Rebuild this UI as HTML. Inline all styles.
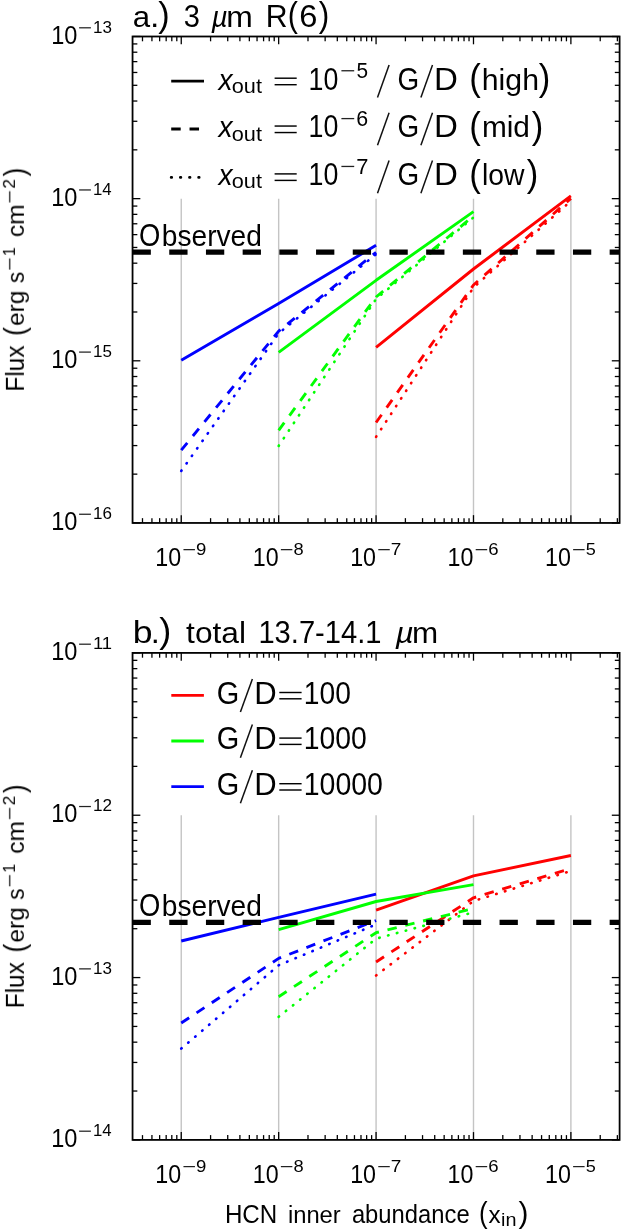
<!DOCTYPE html>
<html><head><meta charset="utf-8"><style>
html,body{margin:0;padding:0;background:#fff;}
svg{display:block;font-family:"Liberation Sans",sans-serif;}
</style></head><body>
<svg width="622" height="1232" viewBox="0 0 622 1232">
<rect width="622" height="1232" fill="#fff"/>
<g opacity="0.999">
<line x1="181.25" y1="522.95" x2="181.25" y2="198.65" stroke="#c4c4c4" stroke-width="1.4"/>
<line x1="278.67" y1="522.95" x2="278.67" y2="198.65" stroke="#c4c4c4" stroke-width="1.4"/>
<line x1="376.07" y1="522.95" x2="376.07" y2="198.65" stroke="#c4c4c4" stroke-width="1.4"/>
<line x1="473.49" y1="522.95" x2="473.49" y2="198.65" stroke="#c4c4c4" stroke-width="1.4"/>
<line x1="570.89" y1="522.95" x2="570.89" y2="198.65" stroke="#c4c4c4" stroke-width="1.4"/>
<path d="M376.07,347.40 L473.49,269.00 L570.89,195.80" fill="none" stroke="#ff0000" stroke-width="2.9" stroke-linejoin="round"/>
<path d="M376.07,422.50 L473.49,285.00 L570.89,198.30" fill="none" stroke="#ff0000" stroke-width="2.9" stroke-linejoin="round" stroke-dasharray="9.5 8.83"/>
<path d="M376.07,436.90 L473.49,287.50 L570.89,201.00" fill="none" stroke="#ff0000" stroke-width="2.65" stroke-linejoin="round" stroke-dasharray="0.5 8.65" stroke-linecap="round"/>
<path d="M278.67,352.30 L376.07,280.30 L473.49,211.60" fill="none" stroke="#00ff00" stroke-width="2.9" stroke-linejoin="round"/>
<path d="M278.67,430.40 L376.07,297.00 L473.49,215.90" fill="none" stroke="#00ff00" stroke-width="2.9" stroke-linejoin="round" stroke-dasharray="9.5 8.83"/>
<path d="M278.67,445.90 L376.07,299.00 L473.49,217.40" fill="none" stroke="#00ff00" stroke-width="2.65" stroke-linejoin="round" stroke-dasharray="0.5 8.65" stroke-linecap="round"/>
<path d="M181.25,360.20 L278.67,303.50 L376.07,245.30" fill="none" stroke="#0000ff" stroke-width="2.9" stroke-linejoin="round"/>
<path d="M181.25,450.20 L278.67,331.20 L376.07,252.30" fill="none" stroke="#0000ff" stroke-width="2.9" stroke-linejoin="round" stroke-dasharray="9.5 8.83"/>
<path d="M181.25,470.90 L278.67,333.30 L376.07,254.30" fill="none" stroke="#0000ff" stroke-width="2.65" stroke-linejoin="round" stroke-dasharray="0.5 8.65" stroke-linecap="round"/>
<line x1="132.55" y1="252.20" x2="619.60" y2="252.20" stroke="#000" stroke-width="5.2" stroke-dasharray="18.3 18.4"/>
<line x1="142.49" y1="522.95" x2="142.49" y2="518.15" stroke="#000" stroke-width="1.3"/>
<line x1="142.49" y1="36.50" x2="142.49" y2="41.30" stroke="#000" stroke-width="1.3"/>
<line x1="151.93" y1="522.95" x2="151.93" y2="518.15" stroke="#000" stroke-width="1.3"/>
<line x1="151.93" y1="36.50" x2="151.93" y2="41.30" stroke="#000" stroke-width="1.3"/>
<line x1="159.64" y1="522.95" x2="159.64" y2="518.15" stroke="#000" stroke-width="1.3"/>
<line x1="159.64" y1="36.50" x2="159.64" y2="41.30" stroke="#000" stroke-width="1.3"/>
<line x1="166.17" y1="522.95" x2="166.17" y2="518.15" stroke="#000" stroke-width="1.3"/>
<line x1="166.17" y1="36.50" x2="166.17" y2="41.30" stroke="#000" stroke-width="1.3"/>
<line x1="171.81" y1="522.95" x2="171.81" y2="518.15" stroke="#000" stroke-width="1.3"/>
<line x1="171.81" y1="36.50" x2="171.81" y2="41.30" stroke="#000" stroke-width="1.3"/>
<line x1="176.80" y1="522.95" x2="176.80" y2="518.15" stroke="#000" stroke-width="1.3"/>
<line x1="176.80" y1="36.50" x2="176.80" y2="41.30" stroke="#000" stroke-width="1.3"/>
<line x1="181.25" y1="522.95" x2="181.25" y2="515.15" stroke="#000" stroke-width="1.3"/>
<line x1="181.25" y1="36.50" x2="181.25" y2="44.30" stroke="#000" stroke-width="1.3"/>
<line x1="210.58" y1="522.95" x2="210.58" y2="518.15" stroke="#000" stroke-width="1.3"/>
<line x1="210.58" y1="36.50" x2="210.58" y2="41.30" stroke="#000" stroke-width="1.3"/>
<line x1="227.73" y1="522.95" x2="227.73" y2="518.15" stroke="#000" stroke-width="1.3"/>
<line x1="227.73" y1="36.50" x2="227.73" y2="41.30" stroke="#000" stroke-width="1.3"/>
<line x1="239.90" y1="522.95" x2="239.90" y2="518.15" stroke="#000" stroke-width="1.3"/>
<line x1="239.90" y1="36.50" x2="239.90" y2="41.30" stroke="#000" stroke-width="1.3"/>
<line x1="249.34" y1="522.95" x2="249.34" y2="518.15" stroke="#000" stroke-width="1.3"/>
<line x1="249.34" y1="36.50" x2="249.34" y2="41.30" stroke="#000" stroke-width="1.3"/>
<line x1="257.05" y1="522.95" x2="257.05" y2="518.15" stroke="#000" stroke-width="1.3"/>
<line x1="257.05" y1="36.50" x2="257.05" y2="41.30" stroke="#000" stroke-width="1.3"/>
<line x1="263.58" y1="522.95" x2="263.58" y2="518.15" stroke="#000" stroke-width="1.3"/>
<line x1="263.58" y1="36.50" x2="263.58" y2="41.30" stroke="#000" stroke-width="1.3"/>
<line x1="269.22" y1="522.95" x2="269.22" y2="518.15" stroke="#000" stroke-width="1.3"/>
<line x1="269.22" y1="36.50" x2="269.22" y2="41.30" stroke="#000" stroke-width="1.3"/>
<line x1="274.21" y1="522.95" x2="274.21" y2="518.15" stroke="#000" stroke-width="1.3"/>
<line x1="274.21" y1="36.50" x2="274.21" y2="41.30" stroke="#000" stroke-width="1.3"/>
<line x1="278.67" y1="522.95" x2="278.67" y2="515.15" stroke="#000" stroke-width="1.3"/>
<line x1="278.67" y1="36.50" x2="278.67" y2="44.30" stroke="#000" stroke-width="1.3"/>
<line x1="307.99" y1="522.95" x2="307.99" y2="518.15" stroke="#000" stroke-width="1.3"/>
<line x1="307.99" y1="36.50" x2="307.99" y2="41.30" stroke="#000" stroke-width="1.3"/>
<line x1="325.14" y1="522.95" x2="325.14" y2="518.15" stroke="#000" stroke-width="1.3"/>
<line x1="325.14" y1="36.50" x2="325.14" y2="41.30" stroke="#000" stroke-width="1.3"/>
<line x1="337.31" y1="522.95" x2="337.31" y2="518.15" stroke="#000" stroke-width="1.3"/>
<line x1="337.31" y1="36.50" x2="337.31" y2="41.30" stroke="#000" stroke-width="1.3"/>
<line x1="346.75" y1="522.95" x2="346.75" y2="518.15" stroke="#000" stroke-width="1.3"/>
<line x1="346.75" y1="36.50" x2="346.75" y2="41.30" stroke="#000" stroke-width="1.3"/>
<line x1="354.46" y1="522.95" x2="354.46" y2="518.15" stroke="#000" stroke-width="1.3"/>
<line x1="354.46" y1="36.50" x2="354.46" y2="41.30" stroke="#000" stroke-width="1.3"/>
<line x1="360.99" y1="522.95" x2="360.99" y2="518.15" stroke="#000" stroke-width="1.3"/>
<line x1="360.99" y1="36.50" x2="360.99" y2="41.30" stroke="#000" stroke-width="1.3"/>
<line x1="366.63" y1="522.95" x2="366.63" y2="518.15" stroke="#000" stroke-width="1.3"/>
<line x1="366.63" y1="36.50" x2="366.63" y2="41.30" stroke="#000" stroke-width="1.3"/>
<line x1="371.62" y1="522.95" x2="371.62" y2="518.15" stroke="#000" stroke-width="1.3"/>
<line x1="371.62" y1="36.50" x2="371.62" y2="41.30" stroke="#000" stroke-width="1.3"/>
<line x1="376.07" y1="522.95" x2="376.07" y2="515.15" stroke="#000" stroke-width="1.3"/>
<line x1="376.07" y1="36.50" x2="376.07" y2="44.30" stroke="#000" stroke-width="1.3"/>
<line x1="405.40" y1="522.95" x2="405.40" y2="518.15" stroke="#000" stroke-width="1.3"/>
<line x1="405.40" y1="36.50" x2="405.40" y2="41.30" stroke="#000" stroke-width="1.3"/>
<line x1="422.55" y1="522.95" x2="422.55" y2="518.15" stroke="#000" stroke-width="1.3"/>
<line x1="422.55" y1="36.50" x2="422.55" y2="41.30" stroke="#000" stroke-width="1.3"/>
<line x1="434.72" y1="522.95" x2="434.72" y2="518.15" stroke="#000" stroke-width="1.3"/>
<line x1="434.72" y1="36.50" x2="434.72" y2="41.30" stroke="#000" stroke-width="1.3"/>
<line x1="444.16" y1="522.95" x2="444.16" y2="518.15" stroke="#000" stroke-width="1.3"/>
<line x1="444.16" y1="36.50" x2="444.16" y2="41.30" stroke="#000" stroke-width="1.3"/>
<line x1="451.87" y1="522.95" x2="451.87" y2="518.15" stroke="#000" stroke-width="1.3"/>
<line x1="451.87" y1="36.50" x2="451.87" y2="41.30" stroke="#000" stroke-width="1.3"/>
<line x1="458.40" y1="522.95" x2="458.40" y2="518.15" stroke="#000" stroke-width="1.3"/>
<line x1="458.40" y1="36.50" x2="458.40" y2="41.30" stroke="#000" stroke-width="1.3"/>
<line x1="464.04" y1="522.95" x2="464.04" y2="518.15" stroke="#000" stroke-width="1.3"/>
<line x1="464.04" y1="36.50" x2="464.04" y2="41.30" stroke="#000" stroke-width="1.3"/>
<line x1="469.03" y1="522.95" x2="469.03" y2="518.15" stroke="#000" stroke-width="1.3"/>
<line x1="469.03" y1="36.50" x2="469.03" y2="41.30" stroke="#000" stroke-width="1.3"/>
<line x1="473.49" y1="522.95" x2="473.49" y2="515.15" stroke="#000" stroke-width="1.3"/>
<line x1="473.49" y1="36.50" x2="473.49" y2="44.30" stroke="#000" stroke-width="1.3"/>
<line x1="502.81" y1="522.95" x2="502.81" y2="518.15" stroke="#000" stroke-width="1.3"/>
<line x1="502.81" y1="36.50" x2="502.81" y2="41.30" stroke="#000" stroke-width="1.3"/>
<line x1="519.96" y1="522.95" x2="519.96" y2="518.15" stroke="#000" stroke-width="1.3"/>
<line x1="519.96" y1="36.50" x2="519.96" y2="41.30" stroke="#000" stroke-width="1.3"/>
<line x1="532.13" y1="522.95" x2="532.13" y2="518.15" stroke="#000" stroke-width="1.3"/>
<line x1="532.13" y1="36.50" x2="532.13" y2="41.30" stroke="#000" stroke-width="1.3"/>
<line x1="541.57" y1="522.95" x2="541.57" y2="518.15" stroke="#000" stroke-width="1.3"/>
<line x1="541.57" y1="36.50" x2="541.57" y2="41.30" stroke="#000" stroke-width="1.3"/>
<line x1="549.28" y1="522.95" x2="549.28" y2="518.15" stroke="#000" stroke-width="1.3"/>
<line x1="549.28" y1="36.50" x2="549.28" y2="41.30" stroke="#000" stroke-width="1.3"/>
<line x1="555.81" y1="522.95" x2="555.81" y2="518.15" stroke="#000" stroke-width="1.3"/>
<line x1="555.81" y1="36.50" x2="555.81" y2="41.30" stroke="#000" stroke-width="1.3"/>
<line x1="561.45" y1="522.95" x2="561.45" y2="518.15" stroke="#000" stroke-width="1.3"/>
<line x1="561.45" y1="36.50" x2="561.45" y2="41.30" stroke="#000" stroke-width="1.3"/>
<line x1="566.44" y1="522.95" x2="566.44" y2="518.15" stroke="#000" stroke-width="1.3"/>
<line x1="566.44" y1="36.50" x2="566.44" y2="41.30" stroke="#000" stroke-width="1.3"/>
<line x1="570.89" y1="522.95" x2="570.89" y2="515.15" stroke="#000" stroke-width="1.3"/>
<line x1="570.89" y1="36.50" x2="570.89" y2="44.30" stroke="#000" stroke-width="1.3"/>
<line x1="600.22" y1="522.95" x2="600.22" y2="518.15" stroke="#000" stroke-width="1.3"/>
<line x1="600.22" y1="36.50" x2="600.22" y2="41.30" stroke="#000" stroke-width="1.3"/>
<line x1="617.37" y1="522.95" x2="617.37" y2="518.15" stroke="#000" stroke-width="1.3"/>
<line x1="617.37" y1="36.50" x2="617.37" y2="41.30" stroke="#000" stroke-width="1.3"/>
<line x1="132.55" y1="522.95" x2="140.35" y2="522.95" stroke="#000" stroke-width="1.3"/>
<line x1="619.60" y1="522.95" x2="611.80" y2="522.95" stroke="#000" stroke-width="1.3"/>
<line x1="132.55" y1="474.14" x2="137.35" y2="474.14" stroke="#000" stroke-width="1.3"/>
<line x1="619.60" y1="474.14" x2="614.80" y2="474.14" stroke="#000" stroke-width="1.3"/>
<line x1="132.55" y1="445.58" x2="137.35" y2="445.58" stroke="#000" stroke-width="1.3"/>
<line x1="619.60" y1="445.58" x2="614.80" y2="445.58" stroke="#000" stroke-width="1.3"/>
<line x1="132.55" y1="425.33" x2="137.35" y2="425.33" stroke="#000" stroke-width="1.3"/>
<line x1="619.60" y1="425.33" x2="614.80" y2="425.33" stroke="#000" stroke-width="1.3"/>
<line x1="132.55" y1="409.61" x2="137.35" y2="409.61" stroke="#000" stroke-width="1.3"/>
<line x1="619.60" y1="409.61" x2="614.80" y2="409.61" stroke="#000" stroke-width="1.3"/>
<line x1="132.55" y1="396.77" x2="137.35" y2="396.77" stroke="#000" stroke-width="1.3"/>
<line x1="619.60" y1="396.77" x2="614.80" y2="396.77" stroke="#000" stroke-width="1.3"/>
<line x1="132.55" y1="385.92" x2="137.35" y2="385.92" stroke="#000" stroke-width="1.3"/>
<line x1="619.60" y1="385.92" x2="614.80" y2="385.92" stroke="#000" stroke-width="1.3"/>
<line x1="132.55" y1="376.51" x2="137.35" y2="376.51" stroke="#000" stroke-width="1.3"/>
<line x1="619.60" y1="376.51" x2="614.80" y2="376.51" stroke="#000" stroke-width="1.3"/>
<line x1="132.55" y1="368.22" x2="137.35" y2="368.22" stroke="#000" stroke-width="1.3"/>
<line x1="619.60" y1="368.22" x2="614.80" y2="368.22" stroke="#000" stroke-width="1.3"/>
<line x1="132.55" y1="360.80" x2="140.35" y2="360.80" stroke="#000" stroke-width="1.3"/>
<line x1="619.60" y1="360.80" x2="611.80" y2="360.80" stroke="#000" stroke-width="1.3"/>
<line x1="132.55" y1="311.99" x2="137.35" y2="311.99" stroke="#000" stroke-width="1.3"/>
<line x1="619.60" y1="311.99" x2="614.80" y2="311.99" stroke="#000" stroke-width="1.3"/>
<line x1="132.55" y1="283.43" x2="137.35" y2="283.43" stroke="#000" stroke-width="1.3"/>
<line x1="619.60" y1="283.43" x2="614.80" y2="283.43" stroke="#000" stroke-width="1.3"/>
<line x1="132.55" y1="263.18" x2="137.35" y2="263.18" stroke="#000" stroke-width="1.3"/>
<line x1="619.60" y1="263.18" x2="614.80" y2="263.18" stroke="#000" stroke-width="1.3"/>
<line x1="132.55" y1="247.46" x2="137.35" y2="247.46" stroke="#000" stroke-width="1.3"/>
<line x1="619.60" y1="247.46" x2="614.80" y2="247.46" stroke="#000" stroke-width="1.3"/>
<line x1="132.55" y1="234.62" x2="137.35" y2="234.62" stroke="#000" stroke-width="1.3"/>
<line x1="619.60" y1="234.62" x2="614.80" y2="234.62" stroke="#000" stroke-width="1.3"/>
<line x1="132.55" y1="223.77" x2="137.35" y2="223.77" stroke="#000" stroke-width="1.3"/>
<line x1="619.60" y1="223.77" x2="614.80" y2="223.77" stroke="#000" stroke-width="1.3"/>
<line x1="132.55" y1="214.36" x2="137.35" y2="214.36" stroke="#000" stroke-width="1.3"/>
<line x1="619.60" y1="214.36" x2="614.80" y2="214.36" stroke="#000" stroke-width="1.3"/>
<line x1="132.55" y1="206.07" x2="137.35" y2="206.07" stroke="#000" stroke-width="1.3"/>
<line x1="619.60" y1="206.07" x2="614.80" y2="206.07" stroke="#000" stroke-width="1.3"/>
<line x1="132.55" y1="198.65" x2="140.35" y2="198.65" stroke="#000" stroke-width="1.3"/>
<line x1="619.60" y1="198.65" x2="611.80" y2="198.65" stroke="#000" stroke-width="1.3"/>
<line x1="132.55" y1="149.84" x2="137.35" y2="149.84" stroke="#000" stroke-width="1.3"/>
<line x1="619.60" y1="149.84" x2="614.80" y2="149.84" stroke="#000" stroke-width="1.3"/>
<line x1="132.55" y1="121.28" x2="137.35" y2="121.28" stroke="#000" stroke-width="1.3"/>
<line x1="619.60" y1="121.28" x2="614.80" y2="121.28" stroke="#000" stroke-width="1.3"/>
<line x1="132.55" y1="101.03" x2="137.35" y2="101.03" stroke="#000" stroke-width="1.3"/>
<line x1="619.60" y1="101.03" x2="614.80" y2="101.03" stroke="#000" stroke-width="1.3"/>
<line x1="132.55" y1="85.31" x2="137.35" y2="85.31" stroke="#000" stroke-width="1.3"/>
<line x1="619.60" y1="85.31" x2="614.80" y2="85.31" stroke="#000" stroke-width="1.3"/>
<line x1="132.55" y1="72.47" x2="137.35" y2="72.47" stroke="#000" stroke-width="1.3"/>
<line x1="619.60" y1="72.47" x2="614.80" y2="72.47" stroke="#000" stroke-width="1.3"/>
<line x1="132.55" y1="61.62" x2="137.35" y2="61.62" stroke="#000" stroke-width="1.3"/>
<line x1="619.60" y1="61.62" x2="614.80" y2="61.62" stroke="#000" stroke-width="1.3"/>
<line x1="132.55" y1="52.21" x2="137.35" y2="52.21" stroke="#000" stroke-width="1.3"/>
<line x1="619.60" y1="52.21" x2="614.80" y2="52.21" stroke="#000" stroke-width="1.3"/>
<line x1="132.55" y1="43.92" x2="137.35" y2="43.92" stroke="#000" stroke-width="1.3"/>
<line x1="619.60" y1="43.92" x2="614.80" y2="43.92" stroke="#000" stroke-width="1.3"/>
<line x1="132.55" y1="36.50" x2="140.35" y2="36.50" stroke="#000" stroke-width="1.3"/>
<line x1="619.60" y1="36.50" x2="611.80" y2="36.50" stroke="#000" stroke-width="1.3"/>
<rect x="132.55" y="36.5" width="487.05" height="486.45000000000005" fill="none" stroke="#000" stroke-width="1.8"/>
<text transform="translate(51.23,43.60) scale(0.9167,1.0000)" font-size="25.7" fill="#000">10</text>
<line x1="79.10" y1="27.80" x2="90.90" y2="27.80" stroke="#222" stroke-width="1.25"/>
<text transform="translate(93.02,32.70) scale(0.9900,1.0000)" font-size="17.2" fill="#000">13</text>
<text transform="translate(51.23,205.75) scale(0.9167,1.0000)" font-size="25.7" fill="#000">10</text>
<line x1="79.10" y1="189.95" x2="90.90" y2="189.95" stroke="#222" stroke-width="1.25"/>
<text transform="translate(93.04,194.85) scale(0.9752,1.0000)" font-size="17.2" fill="#000">14</text>
<text transform="translate(51.23,367.90) scale(0.9167,1.0000)" font-size="25.7" fill="#000">10</text>
<line x1="79.10" y1="352.10" x2="90.90" y2="352.10" stroke="#222" stroke-width="1.25"/>
<text transform="translate(93.03,357.00) scale(0.9875,1.0000)" font-size="17.2" fill="#000">15</text>
<text transform="translate(51.23,530.05) scale(0.9167,1.0000)" font-size="25.7" fill="#000">10</text>
<line x1="79.10" y1="514.25" x2="90.90" y2="514.25" stroke="#222" stroke-width="1.25"/>
<text transform="translate(93.02,519.15) scale(0.9900,1.0000)" font-size="17.2" fill="#000">16</text>
<text transform="translate(155.31,565.65) scale(0.9050,1.0000)" font-size="25.7" fill="#000">10</text>
<line x1="183.45" y1="549.65" x2="194.95" y2="549.65" stroke="#222" stroke-width="1.25"/>
<text transform="translate(195.97,555.35) scale(1.0811,1.0000)" font-size="17.2" fill="#000">9</text>
<text transform="translate(252.72,565.65) scale(0.9050,1.0000)" font-size="25.7" fill="#000">10</text>
<line x1="280.87" y1="549.65" x2="292.37" y2="549.65" stroke="#222" stroke-width="1.25"/>
<text transform="translate(293.49,555.35) scale(1.0638,1.0000)" font-size="17.2" fill="#000">8</text>
<text transform="translate(350.13,565.65) scale(0.9050,1.0000)" font-size="25.7" fill="#000">10</text>
<line x1="378.27" y1="549.65" x2="389.77" y2="549.65" stroke="#222" stroke-width="1.25"/>
<text transform="translate(390.68,555.35) scale(1.1050,1.0000)" font-size="17.2" fill="#000">7</text>
<text transform="translate(447.54,565.65) scale(0.9050,1.0000)" font-size="25.7" fill="#000">10</text>
<line x1="475.69" y1="549.65" x2="487.19" y2="549.65" stroke="#222" stroke-width="1.25"/>
<text transform="translate(488.16,555.35) scale(1.0811,1.0000)" font-size="17.2" fill="#000">6</text>
<text transform="translate(544.95,565.65) scale(0.9050,1.0000)" font-size="25.7" fill="#000">10</text>
<line x1="573.10" y1="549.65" x2="584.60" y2="549.65" stroke="#222" stroke-width="1.25"/>
<text transform="translate(585.77,555.35) scale(1.0526,1.0000)" font-size="17.2" fill="#000">5</text>
<g transform="translate(23.9,389.62) rotate(-90)">
<text transform="translate(-2.02,0.00) scale(0.9479,1.0000)" font-size="25.8" fill="#000">Flux</text>
<text transform="translate(53.86,0.50) scale(1.0188,1.1100)" font-size="25.8" fill="#000">(</text>
<text transform="translate(63.77,0.00) scale(1.0222,1.0000)" font-size="23.8" fill="#000">erg</text>
<text transform="translate(106.58,0.00) scale(0.9508,1.0000)" font-size="23.8" fill="#000">s</text>
<line x1="120.00" y1="-14.20" x2="131.20" y2="-14.20" stroke="#222" stroke-width="1.3"/>
<text transform="translate(133.40,-9.30) scale(0.9275,1.0000)" font-size="17.2" fill="#000">1</text>
<text transform="translate(152.55,0.00) scale(1.0358,1.0000)" font-size="23.8" fill="#000">cm</text>
<line x1="187.20" y1="-14.20" x2="198.40" y2="-14.20" stroke="#222" stroke-width="1.3"/>
<text transform="translate(200.94,-9.30) scale(0.9967,1.0000)" font-size="17.2" fill="#000">2</text>
<text transform="translate(213.31,0.50) scale(1.0041,1.1100)" font-size="25.8" fill="#000">)</text>
</g>
<text transform="translate(139.00,246.10) scale(0.8698,1.0000)" font-size="31.5" fill="#000">O</text>
<text transform="translate(161.77,246.10) scale(0.9264,1.0000)" font-size="30.4" fill="#000">bserved</text>
<line x1="181.25" y1="1139.90" x2="181.25" y2="815.23" stroke="#c4c4c4" stroke-width="1.4"/>
<line x1="278.67" y1="1139.90" x2="278.67" y2="815.23" stroke="#c4c4c4" stroke-width="1.4"/>
<line x1="376.07" y1="1139.90" x2="376.07" y2="815.23" stroke="#c4c4c4" stroke-width="1.4"/>
<line x1="473.49" y1="1139.90" x2="473.49" y2="815.23" stroke="#c4c4c4" stroke-width="1.4"/>
<line x1="570.89" y1="1139.90" x2="570.89" y2="815.23" stroke="#c4c4c4" stroke-width="1.4"/>
<path d="M376.07,910.20 L473.49,875.90 L570.89,855.50" fill="none" stroke="#ff0000" stroke-width="2.9" stroke-linejoin="round"/>
<path d="M376.07,962.00 L473.49,897.80 L570.89,868.50" fill="none" stroke="#ff0000" stroke-width="2.9" stroke-linejoin="round" stroke-dasharray="9.5 8.83"/>
<path d="M376.07,975.50 L473.49,901.00 L570.89,871.00" fill="none" stroke="#ff0000" stroke-width="2.65" stroke-linejoin="round" stroke-dasharray="0.5 8.65" stroke-linecap="round"/>
<path d="M278.67,929.60 L376.07,901.50 L473.49,884.60" fill="none" stroke="#00ff00" stroke-width="2.9" stroke-linejoin="round"/>
<path d="M278.67,996.70 L376.07,932.70 L473.49,908.50" fill="none" stroke="#00ff00" stroke-width="2.9" stroke-linejoin="round" stroke-dasharray="9.5 8.83"/>
<path d="M278.67,1016.80 L376.07,938.70 L473.49,912.30" fill="none" stroke="#00ff00" stroke-width="2.65" stroke-linejoin="round" stroke-dasharray="0.5 8.65" stroke-linecap="round"/>
<path d="M181.25,941.00 L278.67,917.40 L376.07,894.20" fill="none" stroke="#0000ff" stroke-width="2.9" stroke-linejoin="round"/>
<path d="M181.25,1023.00 L278.67,958.40 L376.07,920.50" fill="none" stroke="#0000ff" stroke-width="2.9" stroke-linejoin="round" stroke-dasharray="9.5 8.83"/>
<path d="M181.25,1048.60 L278.67,965.30 L376.07,924.40" fill="none" stroke="#0000ff" stroke-width="2.65" stroke-linejoin="round" stroke-dasharray="0.5 8.65" stroke-linecap="round"/>
<line x1="132.55" y1="922.30" x2="619.60" y2="922.30" stroke="#000" stroke-width="5.2" stroke-dasharray="18.3 18.4"/>
<line x1="142.49" y1="1139.90" x2="142.49" y2="1135.10" stroke="#000" stroke-width="1.3"/>
<line x1="142.49" y1="652.90" x2="142.49" y2="657.70" stroke="#000" stroke-width="1.3"/>
<line x1="151.93" y1="1139.90" x2="151.93" y2="1135.10" stroke="#000" stroke-width="1.3"/>
<line x1="151.93" y1="652.90" x2="151.93" y2="657.70" stroke="#000" stroke-width="1.3"/>
<line x1="159.64" y1="1139.90" x2="159.64" y2="1135.10" stroke="#000" stroke-width="1.3"/>
<line x1="159.64" y1="652.90" x2="159.64" y2="657.70" stroke="#000" stroke-width="1.3"/>
<line x1="166.17" y1="1139.90" x2="166.17" y2="1135.10" stroke="#000" stroke-width="1.3"/>
<line x1="166.17" y1="652.90" x2="166.17" y2="657.70" stroke="#000" stroke-width="1.3"/>
<line x1="171.81" y1="1139.90" x2="171.81" y2="1135.10" stroke="#000" stroke-width="1.3"/>
<line x1="171.81" y1="652.90" x2="171.81" y2="657.70" stroke="#000" stroke-width="1.3"/>
<line x1="176.80" y1="1139.90" x2="176.80" y2="1135.10" stroke="#000" stroke-width="1.3"/>
<line x1="176.80" y1="652.90" x2="176.80" y2="657.70" stroke="#000" stroke-width="1.3"/>
<line x1="181.25" y1="1139.90" x2="181.25" y2="1132.10" stroke="#000" stroke-width="1.3"/>
<line x1="181.25" y1="652.90" x2="181.25" y2="660.70" stroke="#000" stroke-width="1.3"/>
<line x1="210.58" y1="1139.90" x2="210.58" y2="1135.10" stroke="#000" stroke-width="1.3"/>
<line x1="210.58" y1="652.90" x2="210.58" y2="657.70" stroke="#000" stroke-width="1.3"/>
<line x1="227.73" y1="1139.90" x2="227.73" y2="1135.10" stroke="#000" stroke-width="1.3"/>
<line x1="227.73" y1="652.90" x2="227.73" y2="657.70" stroke="#000" stroke-width="1.3"/>
<line x1="239.90" y1="1139.90" x2="239.90" y2="1135.10" stroke="#000" stroke-width="1.3"/>
<line x1="239.90" y1="652.90" x2="239.90" y2="657.70" stroke="#000" stroke-width="1.3"/>
<line x1="249.34" y1="1139.90" x2="249.34" y2="1135.10" stroke="#000" stroke-width="1.3"/>
<line x1="249.34" y1="652.90" x2="249.34" y2="657.70" stroke="#000" stroke-width="1.3"/>
<line x1="257.05" y1="1139.90" x2="257.05" y2="1135.10" stroke="#000" stroke-width="1.3"/>
<line x1="257.05" y1="652.90" x2="257.05" y2="657.70" stroke="#000" stroke-width="1.3"/>
<line x1="263.58" y1="1139.90" x2="263.58" y2="1135.10" stroke="#000" stroke-width="1.3"/>
<line x1="263.58" y1="652.90" x2="263.58" y2="657.70" stroke="#000" stroke-width="1.3"/>
<line x1="269.22" y1="1139.90" x2="269.22" y2="1135.10" stroke="#000" stroke-width="1.3"/>
<line x1="269.22" y1="652.90" x2="269.22" y2="657.70" stroke="#000" stroke-width="1.3"/>
<line x1="274.21" y1="1139.90" x2="274.21" y2="1135.10" stroke="#000" stroke-width="1.3"/>
<line x1="274.21" y1="652.90" x2="274.21" y2="657.70" stroke="#000" stroke-width="1.3"/>
<line x1="278.67" y1="1139.90" x2="278.67" y2="1132.10" stroke="#000" stroke-width="1.3"/>
<line x1="278.67" y1="652.90" x2="278.67" y2="660.70" stroke="#000" stroke-width="1.3"/>
<line x1="307.99" y1="1139.90" x2="307.99" y2="1135.10" stroke="#000" stroke-width="1.3"/>
<line x1="307.99" y1="652.90" x2="307.99" y2="657.70" stroke="#000" stroke-width="1.3"/>
<line x1="325.14" y1="1139.90" x2="325.14" y2="1135.10" stroke="#000" stroke-width="1.3"/>
<line x1="325.14" y1="652.90" x2="325.14" y2="657.70" stroke="#000" stroke-width="1.3"/>
<line x1="337.31" y1="1139.90" x2="337.31" y2="1135.10" stroke="#000" stroke-width="1.3"/>
<line x1="337.31" y1="652.90" x2="337.31" y2="657.70" stroke="#000" stroke-width="1.3"/>
<line x1="346.75" y1="1139.90" x2="346.75" y2="1135.10" stroke="#000" stroke-width="1.3"/>
<line x1="346.75" y1="652.90" x2="346.75" y2="657.70" stroke="#000" stroke-width="1.3"/>
<line x1="354.46" y1="1139.90" x2="354.46" y2="1135.10" stroke="#000" stroke-width="1.3"/>
<line x1="354.46" y1="652.90" x2="354.46" y2="657.70" stroke="#000" stroke-width="1.3"/>
<line x1="360.99" y1="1139.90" x2="360.99" y2="1135.10" stroke="#000" stroke-width="1.3"/>
<line x1="360.99" y1="652.90" x2="360.99" y2="657.70" stroke="#000" stroke-width="1.3"/>
<line x1="366.63" y1="1139.90" x2="366.63" y2="1135.10" stroke="#000" stroke-width="1.3"/>
<line x1="366.63" y1="652.90" x2="366.63" y2="657.70" stroke="#000" stroke-width="1.3"/>
<line x1="371.62" y1="1139.90" x2="371.62" y2="1135.10" stroke="#000" stroke-width="1.3"/>
<line x1="371.62" y1="652.90" x2="371.62" y2="657.70" stroke="#000" stroke-width="1.3"/>
<line x1="376.07" y1="1139.90" x2="376.07" y2="1132.10" stroke="#000" stroke-width="1.3"/>
<line x1="376.07" y1="652.90" x2="376.07" y2="660.70" stroke="#000" stroke-width="1.3"/>
<line x1="405.40" y1="1139.90" x2="405.40" y2="1135.10" stroke="#000" stroke-width="1.3"/>
<line x1="405.40" y1="652.90" x2="405.40" y2="657.70" stroke="#000" stroke-width="1.3"/>
<line x1="422.55" y1="1139.90" x2="422.55" y2="1135.10" stroke="#000" stroke-width="1.3"/>
<line x1="422.55" y1="652.90" x2="422.55" y2="657.70" stroke="#000" stroke-width="1.3"/>
<line x1="434.72" y1="1139.90" x2="434.72" y2="1135.10" stroke="#000" stroke-width="1.3"/>
<line x1="434.72" y1="652.90" x2="434.72" y2="657.70" stroke="#000" stroke-width="1.3"/>
<line x1="444.16" y1="1139.90" x2="444.16" y2="1135.10" stroke="#000" stroke-width="1.3"/>
<line x1="444.16" y1="652.90" x2="444.16" y2="657.70" stroke="#000" stroke-width="1.3"/>
<line x1="451.87" y1="1139.90" x2="451.87" y2="1135.10" stroke="#000" stroke-width="1.3"/>
<line x1="451.87" y1="652.90" x2="451.87" y2="657.70" stroke="#000" stroke-width="1.3"/>
<line x1="458.40" y1="1139.90" x2="458.40" y2="1135.10" stroke="#000" stroke-width="1.3"/>
<line x1="458.40" y1="652.90" x2="458.40" y2="657.70" stroke="#000" stroke-width="1.3"/>
<line x1="464.04" y1="1139.90" x2="464.04" y2="1135.10" stroke="#000" stroke-width="1.3"/>
<line x1="464.04" y1="652.90" x2="464.04" y2="657.70" stroke="#000" stroke-width="1.3"/>
<line x1="469.03" y1="1139.90" x2="469.03" y2="1135.10" stroke="#000" stroke-width="1.3"/>
<line x1="469.03" y1="652.90" x2="469.03" y2="657.70" stroke="#000" stroke-width="1.3"/>
<line x1="473.49" y1="1139.90" x2="473.49" y2="1132.10" stroke="#000" stroke-width="1.3"/>
<line x1="473.49" y1="652.90" x2="473.49" y2="660.70" stroke="#000" stroke-width="1.3"/>
<line x1="502.81" y1="1139.90" x2="502.81" y2="1135.10" stroke="#000" stroke-width="1.3"/>
<line x1="502.81" y1="652.90" x2="502.81" y2="657.70" stroke="#000" stroke-width="1.3"/>
<line x1="519.96" y1="1139.90" x2="519.96" y2="1135.10" stroke="#000" stroke-width="1.3"/>
<line x1="519.96" y1="652.90" x2="519.96" y2="657.70" stroke="#000" stroke-width="1.3"/>
<line x1="532.13" y1="1139.90" x2="532.13" y2="1135.10" stroke="#000" stroke-width="1.3"/>
<line x1="532.13" y1="652.90" x2="532.13" y2="657.70" stroke="#000" stroke-width="1.3"/>
<line x1="541.57" y1="1139.90" x2="541.57" y2="1135.10" stroke="#000" stroke-width="1.3"/>
<line x1="541.57" y1="652.90" x2="541.57" y2="657.70" stroke="#000" stroke-width="1.3"/>
<line x1="549.28" y1="1139.90" x2="549.28" y2="1135.10" stroke="#000" stroke-width="1.3"/>
<line x1="549.28" y1="652.90" x2="549.28" y2="657.70" stroke="#000" stroke-width="1.3"/>
<line x1="555.81" y1="1139.90" x2="555.81" y2="1135.10" stroke="#000" stroke-width="1.3"/>
<line x1="555.81" y1="652.90" x2="555.81" y2="657.70" stroke="#000" stroke-width="1.3"/>
<line x1="561.45" y1="1139.90" x2="561.45" y2="1135.10" stroke="#000" stroke-width="1.3"/>
<line x1="561.45" y1="652.90" x2="561.45" y2="657.70" stroke="#000" stroke-width="1.3"/>
<line x1="566.44" y1="1139.90" x2="566.44" y2="1135.10" stroke="#000" stroke-width="1.3"/>
<line x1="566.44" y1="652.90" x2="566.44" y2="657.70" stroke="#000" stroke-width="1.3"/>
<line x1="570.89" y1="1139.90" x2="570.89" y2="1132.10" stroke="#000" stroke-width="1.3"/>
<line x1="570.89" y1="652.90" x2="570.89" y2="660.70" stroke="#000" stroke-width="1.3"/>
<line x1="600.22" y1="1139.90" x2="600.22" y2="1135.10" stroke="#000" stroke-width="1.3"/>
<line x1="600.22" y1="652.90" x2="600.22" y2="657.70" stroke="#000" stroke-width="1.3"/>
<line x1="617.37" y1="1139.90" x2="617.37" y2="1135.10" stroke="#000" stroke-width="1.3"/>
<line x1="617.37" y1="652.90" x2="617.37" y2="657.70" stroke="#000" stroke-width="1.3"/>
<line x1="132.55" y1="1139.90" x2="140.35" y2="1139.90" stroke="#000" stroke-width="1.3"/>
<line x1="619.60" y1="1139.90" x2="611.80" y2="1139.90" stroke="#000" stroke-width="1.3"/>
<line x1="132.55" y1="1091.03" x2="137.35" y2="1091.03" stroke="#000" stroke-width="1.3"/>
<line x1="619.60" y1="1091.03" x2="614.80" y2="1091.03" stroke="#000" stroke-width="1.3"/>
<line x1="132.55" y1="1062.45" x2="137.35" y2="1062.45" stroke="#000" stroke-width="1.3"/>
<line x1="619.60" y1="1062.45" x2="614.80" y2="1062.45" stroke="#000" stroke-width="1.3"/>
<line x1="132.55" y1="1042.17" x2="137.35" y2="1042.17" stroke="#000" stroke-width="1.3"/>
<line x1="619.60" y1="1042.17" x2="614.80" y2="1042.17" stroke="#000" stroke-width="1.3"/>
<line x1="132.55" y1="1026.43" x2="137.35" y2="1026.43" stroke="#000" stroke-width="1.3"/>
<line x1="619.60" y1="1026.43" x2="614.80" y2="1026.43" stroke="#000" stroke-width="1.3"/>
<line x1="132.55" y1="1013.58" x2="137.35" y2="1013.58" stroke="#000" stroke-width="1.3"/>
<line x1="619.60" y1="1013.58" x2="614.80" y2="1013.58" stroke="#000" stroke-width="1.3"/>
<line x1="132.55" y1="1002.71" x2="137.35" y2="1002.71" stroke="#000" stroke-width="1.3"/>
<line x1="619.60" y1="1002.71" x2="614.80" y2="1002.71" stroke="#000" stroke-width="1.3"/>
<line x1="132.55" y1="993.30" x2="137.35" y2="993.30" stroke="#000" stroke-width="1.3"/>
<line x1="619.60" y1="993.30" x2="614.80" y2="993.30" stroke="#000" stroke-width="1.3"/>
<line x1="132.55" y1="984.99" x2="137.35" y2="984.99" stroke="#000" stroke-width="1.3"/>
<line x1="619.60" y1="984.99" x2="614.80" y2="984.99" stroke="#000" stroke-width="1.3"/>
<line x1="132.55" y1="977.57" x2="140.35" y2="977.57" stroke="#000" stroke-width="1.3"/>
<line x1="619.60" y1="977.57" x2="611.80" y2="977.57" stroke="#000" stroke-width="1.3"/>
<line x1="132.55" y1="928.70" x2="137.35" y2="928.70" stroke="#000" stroke-width="1.3"/>
<line x1="619.60" y1="928.70" x2="614.80" y2="928.70" stroke="#000" stroke-width="1.3"/>
<line x1="132.55" y1="900.11" x2="137.35" y2="900.11" stroke="#000" stroke-width="1.3"/>
<line x1="619.60" y1="900.11" x2="614.80" y2="900.11" stroke="#000" stroke-width="1.3"/>
<line x1="132.55" y1="879.83" x2="137.35" y2="879.83" stroke="#000" stroke-width="1.3"/>
<line x1="619.60" y1="879.83" x2="614.80" y2="879.83" stroke="#000" stroke-width="1.3"/>
<line x1="132.55" y1="864.10" x2="137.35" y2="864.10" stroke="#000" stroke-width="1.3"/>
<line x1="619.60" y1="864.10" x2="614.80" y2="864.10" stroke="#000" stroke-width="1.3"/>
<line x1="132.55" y1="851.25" x2="137.35" y2="851.25" stroke="#000" stroke-width="1.3"/>
<line x1="619.60" y1="851.25" x2="614.80" y2="851.25" stroke="#000" stroke-width="1.3"/>
<line x1="132.55" y1="840.38" x2="137.35" y2="840.38" stroke="#000" stroke-width="1.3"/>
<line x1="619.60" y1="840.38" x2="614.80" y2="840.38" stroke="#000" stroke-width="1.3"/>
<line x1="132.55" y1="830.97" x2="137.35" y2="830.97" stroke="#000" stroke-width="1.3"/>
<line x1="619.60" y1="830.97" x2="614.80" y2="830.97" stroke="#000" stroke-width="1.3"/>
<line x1="132.55" y1="822.66" x2="137.35" y2="822.66" stroke="#000" stroke-width="1.3"/>
<line x1="619.60" y1="822.66" x2="614.80" y2="822.66" stroke="#000" stroke-width="1.3"/>
<line x1="132.55" y1="815.23" x2="140.35" y2="815.23" stroke="#000" stroke-width="1.3"/>
<line x1="619.60" y1="815.23" x2="611.80" y2="815.23" stroke="#000" stroke-width="1.3"/>
<line x1="132.55" y1="766.37" x2="137.35" y2="766.37" stroke="#000" stroke-width="1.3"/>
<line x1="619.60" y1="766.37" x2="614.80" y2="766.37" stroke="#000" stroke-width="1.3"/>
<line x1="132.55" y1="737.78" x2="137.35" y2="737.78" stroke="#000" stroke-width="1.3"/>
<line x1="619.60" y1="737.78" x2="614.80" y2="737.78" stroke="#000" stroke-width="1.3"/>
<line x1="132.55" y1="717.50" x2="137.35" y2="717.50" stroke="#000" stroke-width="1.3"/>
<line x1="619.60" y1="717.50" x2="614.80" y2="717.50" stroke="#000" stroke-width="1.3"/>
<line x1="132.55" y1="701.77" x2="137.35" y2="701.77" stroke="#000" stroke-width="1.3"/>
<line x1="619.60" y1="701.77" x2="614.80" y2="701.77" stroke="#000" stroke-width="1.3"/>
<line x1="132.55" y1="688.91" x2="137.35" y2="688.91" stroke="#000" stroke-width="1.3"/>
<line x1="619.60" y1="688.91" x2="614.80" y2="688.91" stroke="#000" stroke-width="1.3"/>
<line x1="132.55" y1="678.05" x2="137.35" y2="678.05" stroke="#000" stroke-width="1.3"/>
<line x1="619.60" y1="678.05" x2="614.80" y2="678.05" stroke="#000" stroke-width="1.3"/>
<line x1="132.55" y1="668.63" x2="137.35" y2="668.63" stroke="#000" stroke-width="1.3"/>
<line x1="619.60" y1="668.63" x2="614.80" y2="668.63" stroke="#000" stroke-width="1.3"/>
<line x1="132.55" y1="660.33" x2="137.35" y2="660.33" stroke="#000" stroke-width="1.3"/>
<line x1="619.60" y1="660.33" x2="614.80" y2="660.33" stroke="#000" stroke-width="1.3"/>
<line x1="132.55" y1="652.90" x2="140.35" y2="652.90" stroke="#000" stroke-width="1.3"/>
<line x1="619.60" y1="652.90" x2="611.80" y2="652.90" stroke="#000" stroke-width="1.3"/>
<rect x="132.55" y="652.9" width="487.05" height="487.0000000000001" fill="none" stroke="#000" stroke-width="1.8"/>
<text transform="translate(51.23,660.00) scale(0.9167,1.0000)" font-size="25.7" fill="#000">10</text>
<line x1="79.10" y1="644.20" x2="90.90" y2="644.20" stroke="#222" stroke-width="1.25"/>
<text transform="translate(92.91,649.10) scale(1.0738,1.0000)" font-size="17.2" fill="#000">11</text>
<text transform="translate(51.23,822.33) scale(0.9167,1.0000)" font-size="25.7" fill="#000">10</text>
<line x1="79.10" y1="806.53" x2="90.90" y2="806.53" stroke="#222" stroke-width="1.25"/>
<text transform="translate(93.01,811.43) scale(0.9975,1.0000)" font-size="17.2" fill="#000">12</text>
<text transform="translate(51.23,984.67) scale(0.9167,1.0000)" font-size="25.7" fill="#000">10</text>
<line x1="79.10" y1="968.87" x2="90.90" y2="968.87" stroke="#222" stroke-width="1.25"/>
<text transform="translate(93.02,973.77) scale(0.9900,1.0000)" font-size="17.2" fill="#000">13</text>
<text transform="translate(51.23,1147.00) scale(0.9167,1.0000)" font-size="25.7" fill="#000">10</text>
<line x1="79.10" y1="1131.20" x2="90.90" y2="1131.20" stroke="#222" stroke-width="1.25"/>
<text transform="translate(93.04,1136.10) scale(0.9752,1.0000)" font-size="17.2" fill="#000">14</text>
<text transform="translate(155.31,1182.60) scale(0.9050,1.0000)" font-size="25.7" fill="#000">10</text>
<line x1="183.45" y1="1166.60" x2="194.95" y2="1166.60" stroke="#222" stroke-width="1.25"/>
<text transform="translate(195.97,1172.30) scale(1.0811,1.0000)" font-size="17.2" fill="#000">9</text>
<text transform="translate(252.72,1182.60) scale(0.9050,1.0000)" font-size="25.7" fill="#000">10</text>
<line x1="280.87" y1="1166.60" x2="292.37" y2="1166.60" stroke="#222" stroke-width="1.25"/>
<text transform="translate(293.49,1172.30) scale(1.0638,1.0000)" font-size="17.2" fill="#000">8</text>
<text transform="translate(350.13,1182.60) scale(0.9050,1.0000)" font-size="25.7" fill="#000">10</text>
<line x1="378.27" y1="1166.60" x2="389.77" y2="1166.60" stroke="#222" stroke-width="1.25"/>
<text transform="translate(390.68,1172.30) scale(1.1050,1.0000)" font-size="17.2" fill="#000">7</text>
<text transform="translate(447.54,1182.60) scale(0.9050,1.0000)" font-size="25.7" fill="#000">10</text>
<line x1="475.69" y1="1166.60" x2="487.19" y2="1166.60" stroke="#222" stroke-width="1.25"/>
<text transform="translate(488.16,1172.30) scale(1.0811,1.0000)" font-size="17.2" fill="#000">6</text>
<text transform="translate(544.95,1182.60) scale(0.9050,1.0000)" font-size="25.7" fill="#000">10</text>
<line x1="573.10" y1="1166.60" x2="584.60" y2="1166.60" stroke="#222" stroke-width="1.25"/>
<text transform="translate(585.77,1172.30) scale(1.0526,1.0000)" font-size="17.2" fill="#000">5</text>
<g transform="translate(23.9,1006.30) rotate(-90)">
<text transform="translate(-2.02,0.00) scale(0.9479,1.0000)" font-size="25.8" fill="#000">Flux</text>
<text transform="translate(53.86,0.50) scale(1.0188,1.1100)" font-size="25.8" fill="#000">(</text>
<text transform="translate(63.77,0.00) scale(1.0222,1.0000)" font-size="23.8" fill="#000">erg</text>
<text transform="translate(106.58,0.00) scale(0.9508,1.0000)" font-size="23.8" fill="#000">s</text>
<line x1="120.00" y1="-14.20" x2="131.20" y2="-14.20" stroke="#222" stroke-width="1.3"/>
<text transform="translate(133.40,-9.30) scale(0.9275,1.0000)" font-size="17.2" fill="#000">1</text>
<text transform="translate(152.55,0.00) scale(1.0358,1.0000)" font-size="23.8" fill="#000">cm</text>
<line x1="187.20" y1="-14.20" x2="198.40" y2="-14.20" stroke="#222" stroke-width="1.3"/>
<text transform="translate(200.94,-9.30) scale(0.9967,1.0000)" font-size="17.2" fill="#000">2</text>
<text transform="translate(213.31,0.50) scale(1.0041,1.1100)" font-size="25.8" fill="#000">)</text>
</g>
<text transform="translate(139.00,916.20) scale(0.8698,1.0000)" font-size="31.5" fill="#000">O</text>
<text transform="translate(161.77,916.20) scale(0.9264,1.0000)" font-size="30.4" fill="#000">bserved</text>
<text transform="translate(132.67,27.20) scale(1.0655,1.0000)" font-size="29.3" fill="#000">a</text>
<text transform="translate(150.08,27.20) scale(1.0693,1.0000)" font-size="31.5" fill="#000">.</text>
<text transform="translate(158.34,27.20) scale(1.0884,1.1100)" font-size="31.5" fill="#000">)</text>
<text transform="translate(183.81,27.20) scale(0.9223,1.0000)" font-size="31.5" fill="#000">3</text>
<text transform="translate(211.50,27.20) scale(0.9614,1.0000)" font-size="29.3" font-style="italic" fill="#000">µ</text>
<text transform="translate(226.15,27.20) scale(1.0873,1.0000)" font-size="29.3" fill="#000">m</text>
<text transform="translate(265.81,27.20) scale(0.9591,1.0000)" font-size="31.5" fill="#000">R</text>
<text transform="translate(287.80,27.20) scale(0.9675,1.1100)" font-size="31.5" fill="#000">(</text>
<text transform="translate(299.37,27.20) scale(1.0365,1.0000)" font-size="31.5" fill="#000">6</text>
<text transform="translate(318.76,27.20) scale(1.0038,1.1100)" font-size="31.5" fill="#000">)</text>
<text transform="translate(132.79,643.30) scale(1.1287,1.0000)" font-size="31.5" fill="#000">b</text>
<text transform="translate(150.68,643.30) scale(1.0359,1.0000)" font-size="31.5" fill="#000">.</text>
<text transform="translate(159.33,643.30) scale(1.1489,1.1100)" font-size="31.5" fill="#000">)</text>
<text transform="translate(186.12,643.30) scale(1.0428,1.0000)" font-size="30.4" fill="#000">total</text>
<text transform="translate(258.41,643.30) scale(0.9255,1.0000)" font-size="31.5" fill="#000">13.7-14.1</text>
<text transform="translate(395.60,643.30) scale(1.0768,1.0000)" font-size="29.3" font-style="italic" fill="#000">µ</text>
<text transform="translate(411.88,643.30) scale(1.0726,1.0000)" font-size="29.3" fill="#000">m</text>
<text transform="translate(224.91,1222.90) scale(0.9296,1.0000)" font-size="26.0" fill="#000">HCN</text>
<text transform="translate(287.89,1222.90) scale(0.9669,1.0000)" font-size="24.6" fill="#000">inner</text>
<text transform="translate(351.89,1222.90) scale(0.9442,1.0000)" font-size="25.2" fill="#000">abundance</text>
<text transform="translate(478.88,1223.40) scale(0.9963,1.1100)" font-size="26.0" fill="#000">(</text>
<text transform="translate(488.60,1222.90) scale(1.0172,1.0000)" font-size="23.8" fill="#000">x</text>
<text transform="translate(501.06,1225.50) scale(1.0904,1.0000)" font-size="18.2" fill="#000">in</text>
<text transform="translate(518.58,1223.40) scale(1.1429,1.1100)" font-size="26.0" fill="#000">)</text>
<line x1="171.20" y1="81.10" x2="204.00" y2="81.10" stroke="#000" stroke-width="2.9"/>
<text transform="translate(218.43,89.60) scale(0.9858,1.0000)" font-size="28.6" font-style="italic" fill="#000">x</text>
<text transform="translate(231.78,92.70) scale(1.0441,1.0000)" font-size="20.8" fill="#000">out</text>
<line x1="274.60" y1="78.20" x2="296.70" y2="78.20" stroke="#000" stroke-width="1.45"/>
<line x1="274.60" y1="84.70" x2="296.70" y2="84.70" stroke="#000" stroke-width="1.45"/>
<text transform="translate(308.59,89.60) scale(0.8497,1.0000)" font-size="31.5" fill="#000">10</text>
<line x1="341.40" y1="70.75" x2="354.20" y2="70.75" stroke="#222" stroke-width="1.3"/>
<text transform="translate(356.57,78.10) scale(0.9649,1.0000)" font-size="21.6" fill="#000">5</text>
<line x1="377.50" y1="97.50" x2="389.10" y2="64.90" stroke="#111" stroke-width="1.5"/>
<text transform="translate(397.61,89.60) scale(0.8855,1.0000)" font-size="31.5" fill="#000">G</text>
<line x1="420.90" y1="97.50" x2="432.50" y2="64.90" stroke="#111" stroke-width="1.5"/>
<text transform="translate(434.07,89.60) scale(1.0502,1.0000)" font-size="31.5" fill="#000">D</text>
<text transform="translate(469.23,90.10) scale(1.1005,1.1900)" font-size="31.5" fill="#000">(</text>
<text transform="translate(481.78,89.60) scale(0.9953,1.0000)" font-size="30.4" fill="#000">high</text>
<text transform="translate(538.84,90.10) scale(1.1005,1.1900)" font-size="31.5" fill="#000">)</text>
<line x1="171.20" y1="129.05" x2="204.00" y2="129.05" stroke="#000" stroke-width="2.9" stroke-dasharray="9.5 8.83"/>
<text transform="translate(218.43,137.45) scale(0.9858,1.0000)" font-size="28.6" font-style="italic" fill="#000">x</text>
<text transform="translate(231.78,140.55) scale(1.0441,1.0000)" font-size="20.8" fill="#000">out</text>
<line x1="274.60" y1="126.05" x2="296.70" y2="126.05" stroke="#000" stroke-width="1.45"/>
<line x1="274.60" y1="132.55" x2="296.70" y2="132.55" stroke="#000" stroke-width="1.45"/>
<text transform="translate(308.59,137.45) scale(0.8497,1.0000)" font-size="31.5" fill="#000">10</text>
<line x1="341.40" y1="118.60" x2="354.20" y2="118.60" stroke="#222" stroke-width="1.3"/>
<text transform="translate(356.33,125.95) scale(0.9910,1.0000)" font-size="21.6" fill="#000">6</text>
<line x1="377.50" y1="145.35" x2="389.10" y2="112.75" stroke="#111" stroke-width="1.5"/>
<text transform="translate(397.61,137.45) scale(0.8855,1.0000)" font-size="31.5" fill="#000">G</text>
<line x1="420.90" y1="145.35" x2="432.50" y2="112.75" stroke="#111" stroke-width="1.5"/>
<text transform="translate(434.07,137.45) scale(1.0502,1.0000)" font-size="31.5" fill="#000">D</text>
<text transform="translate(469.23,137.95) scale(1.1005,1.1900)" font-size="31.5" fill="#000">(</text>
<text transform="translate(481.89,137.45) scale(0.9802,1.0000)" font-size="30.4" fill="#000">mid</text>
<text transform="translate(531.84,137.95) scale(1.1005,1.1900)" font-size="31.5" fill="#000">)</text>
<line x1="171.20" y1="177.40" x2="204.00" y2="177.40" stroke="#000" stroke-width="2.8" stroke-dasharray="0.5 8.65" stroke-linecap="round"/>
<text transform="translate(218.43,185.30) scale(0.9858,1.0000)" font-size="28.6" font-style="italic" fill="#000">x</text>
<text transform="translate(231.78,188.40) scale(1.0441,1.0000)" font-size="20.8" fill="#000">out</text>
<line x1="274.60" y1="173.90" x2="296.70" y2="173.90" stroke="#000" stroke-width="1.45"/>
<line x1="274.60" y1="180.40" x2="296.70" y2="180.40" stroke="#000" stroke-width="1.45"/>
<text transform="translate(308.59,185.30) scale(0.8497,1.0000)" font-size="31.5" fill="#000">10</text>
<line x1="341.40" y1="166.45" x2="354.20" y2="166.45" stroke="#222" stroke-width="1.3"/>
<text transform="translate(356.25,173.80) scale(1.0129,1.0000)" font-size="21.6" fill="#000">7</text>
<line x1="377.50" y1="193.20" x2="389.10" y2="160.60" stroke="#111" stroke-width="1.5"/>
<text transform="translate(397.61,185.30) scale(0.8855,1.0000)" font-size="31.5" fill="#000">G</text>
<line x1="420.90" y1="193.20" x2="432.50" y2="160.60" stroke="#111" stroke-width="1.5"/>
<text transform="translate(434.07,185.30) scale(1.0502,1.0000)" font-size="31.5" fill="#000">D</text>
<text transform="translate(469.23,185.80) scale(1.1005,1.1900)" font-size="31.5" fill="#000">(</text>
<text transform="translate(481.99,185.30) scale(0.9330,1.0000)" font-size="30.4" fill="#000">low</text>
<text transform="translate(526.64,185.80) scale(1.1005,1.1900)" font-size="31.5" fill="#000">)</text>
<line x1="171.30" y1="695.40" x2="203.90" y2="695.40" stroke="#ff0000" stroke-width="2.9"/>
<text transform="translate(216.65,703.50) scale(0.9195,1.0000)" font-size="31.5" fill="#000">G</text>
<line x1="240.40" y1="712.10" x2="252.40" y2="679.00" stroke="#111" stroke-width="1.5"/>
<text transform="translate(254.24,703.50) scale(0.9859,1.0000)" font-size="31.5" fill="#000">D</text>
<line x1="279.30" y1="692.50" x2="301.60" y2="692.50" stroke="#000" stroke-width="1.45"/>
<line x1="279.30" y1="698.80" x2="301.60" y2="698.80" stroke="#000" stroke-width="1.45"/>
<text transform="translate(303.78,703.50) scale(0.8962,1.0000)" font-size="31.5" fill="#000">100</text>
<line x1="171.30" y1="741.00" x2="203.90" y2="741.00" stroke="#00ff00" stroke-width="2.9"/>
<text transform="translate(216.65,749.10) scale(0.9195,1.0000)" font-size="31.5" fill="#000">G</text>
<line x1="240.40" y1="757.70" x2="252.40" y2="724.60" stroke="#111" stroke-width="1.5"/>
<text transform="translate(254.24,749.10) scale(0.9859,1.0000)" font-size="31.5" fill="#000">D</text>
<line x1="279.30" y1="738.10" x2="301.60" y2="738.10" stroke="#000" stroke-width="1.45"/>
<line x1="279.30" y1="744.40" x2="301.60" y2="744.40" stroke="#000" stroke-width="1.45"/>
<text transform="translate(303.77,749.10) scale(0.8997,1.0000)" font-size="31.5" fill="#000">1000</text>
<line x1="171.30" y1="786.60" x2="203.90" y2="786.60" stroke="#0000ff" stroke-width="2.9"/>
<text transform="translate(216.65,794.70) scale(0.9195,1.0000)" font-size="31.5" fill="#000">G</text>
<line x1="240.40" y1="803.30" x2="252.40" y2="770.20" stroke="#111" stroke-width="1.5"/>
<text transform="translate(254.24,794.70) scale(0.9859,1.0000)" font-size="31.5" fill="#000">D</text>
<line x1="279.30" y1="783.70" x2="301.60" y2="783.70" stroke="#000" stroke-width="1.45"/>
<line x1="279.30" y1="790.00" x2="301.60" y2="790.00" stroke="#000" stroke-width="1.45"/>
<text transform="translate(303.76,794.70) scale(0.9045,1.0000)" font-size="31.5" fill="#000">10000</text>
</g>
</svg></body></html>
